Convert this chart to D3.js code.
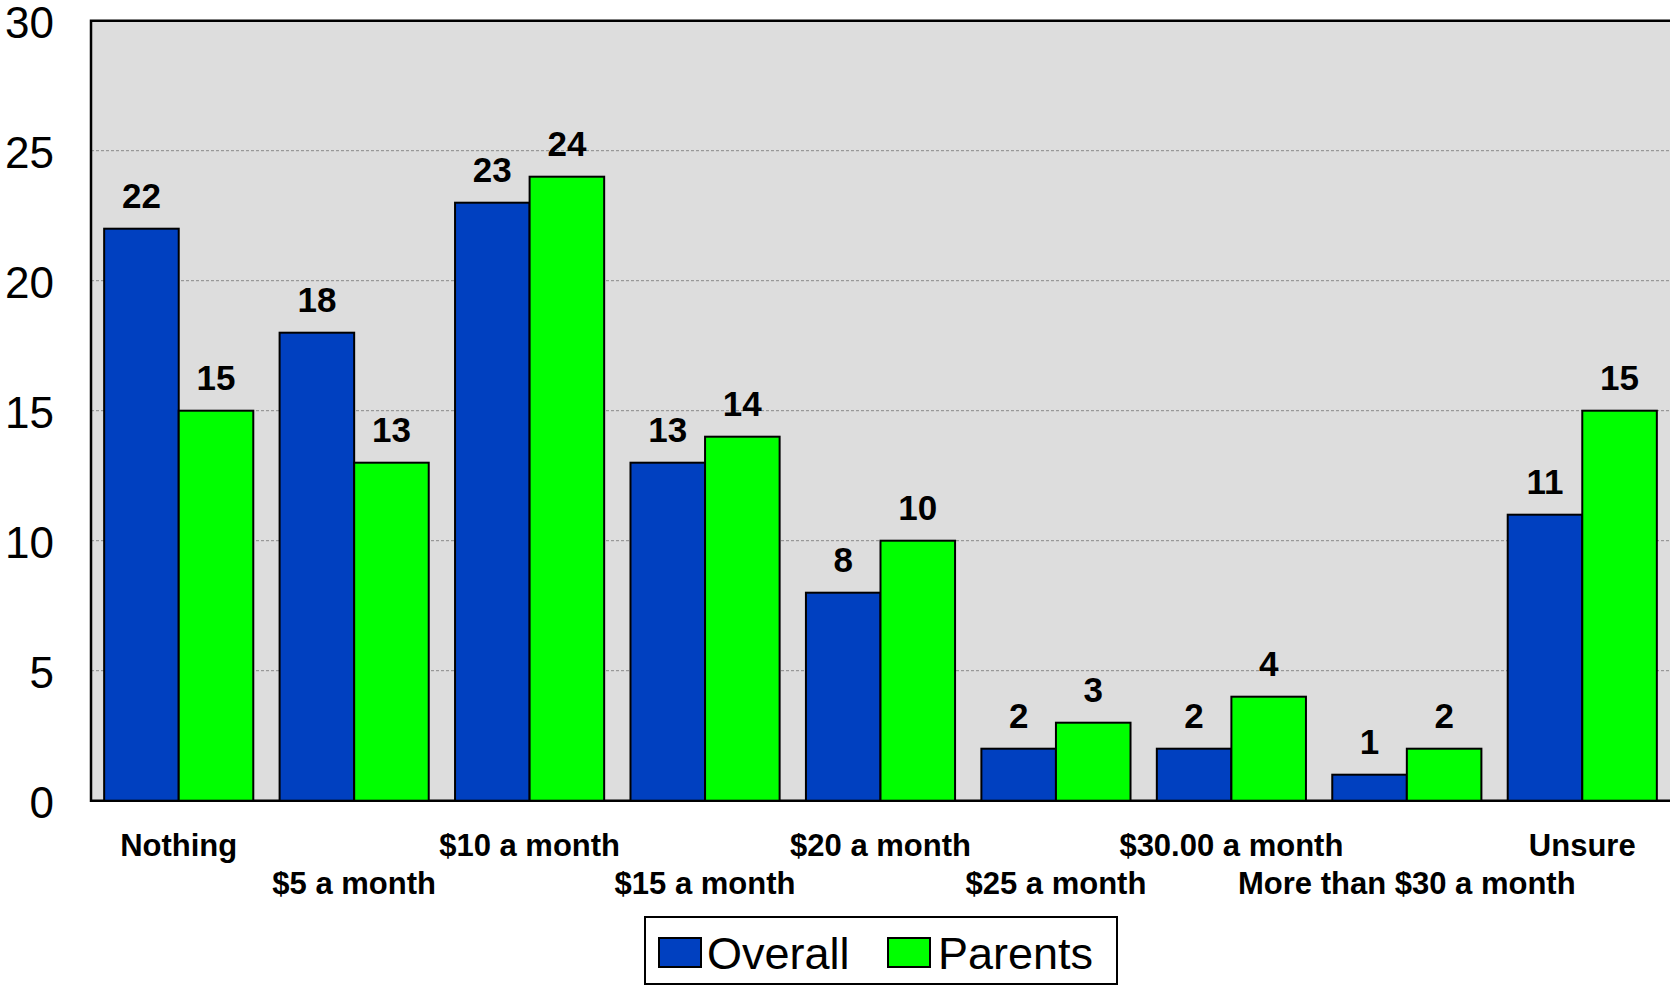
<!DOCTYPE html>
<html><head><meta charset="utf-8">
<script src="https://cdn.jsdelivr.net/npm/d3@7"></script>
<style>html,body{margin:0;padding:0;background:#fff;overflow:hidden}</style>
</head><body>
<svg id="chart" width="1670" height="986"></svg>
<script>
const categories = ["Nothing","$5 a month","$10 a month","$15 a month","$20 a month","$25 a month","$30.00 a month","More than $30 a month","Unsure"];
const seriesNames = ["Overall","Parents"];
const overall = [22,18,23,13,8,2,2,1,11];
const parents = [15,13,24,14,10,3,4,2,15];
const yTicks = [0,5,10,15,20,25,30];
const colors = {Overall:"#0040C0", Parents:"#00FF00"};

(function(){
const svg = d3.select("#chart");
const font = "'Liberation Sans', Arial, sans-serif";
const pLeft = 91, pRight = 1670, pTop = 20.7, pBottom = 800.7;

const x0 = d3.scaleBand().domain(categories).range([pLeft, pRight]).padding(0);
const bw = x0.bandwidth();
const x1 = d3.scaleBand().domain(seriesNames).range([bw*0.075, bw*0.925]).padding(0);
const y = d3.scaleLinear().domain([0,30]).range([pBottom, pTop]);

svg.append("rect").attr("x", pLeft).attr("y", pTop).attr("width", pRight-pLeft+5).attr("height", pBottom-pTop).attr("fill", "#DDDDDD");

svg.append("g").selectAll("line").data(yTicks.filter(d => d>0 && d<30)).join("line")
  .attr("x1", pLeft).attr("x2", pRight+5).attr("y1", d=>y(d)).attr("y2", d=>y(d))
  .attr("stroke", "#888").attr("stroke-width", 1).attr("stroke-dasharray", "3,2");

svg.append("path").attr("d", `M${pRight+5},${pTop}H${pLeft}V${pBottom}H${pRight+5}`)
  .attr("fill","none").attr("stroke","#000").attr("stroke-width",2.5);

const data = categories.map((c,i)=>({cat:c, vals:[{s:"Overall",v:overall[i]},{s:"Parents",v:parents[i]}]}));
const groups = svg.append("g").selectAll("g").data(data).join("g")
  .attr("transform", d=>`translate(${x0(d.cat)},0)`);
groups.selectAll("rect").data(d=>d.vals).join("rect")
  .attr("x", d=>x1(d.s)).attr("width", x1.bandwidth())
  .attr("y", d=>y(d.v)).attr("height", d=>y(0)-y(d.v))
  .attr("fill", d=>colors[d.s]).attr("stroke","#000").attr("stroke-width",2);
groups.selectAll("text").data(d=>d.vals).join("text")
  .attr("x", d=>x1(d.s)+x1.bandwidth()/2).attr("y", d=>y(d.v)-21)
  .attr("text-anchor","middle").attr("font-family",font).attr("font-weight","bold")
  .attr("font-size","35px").attr("fill","#000").text(d=>d.v);

svg.append("g").selectAll("text").data(yTicks).join("text")
  .attr("x", 54).attr("y", d=>y(d)+17).attr("text-anchor","end")
  .attr("font-family",font).attr("font-size","44px").attr("fill","#000").text(d=>d);

svg.append("g").selectAll("text").data(categories).join("text")
  .attr("x", d=>x0(d)+bw/2).attr("y", (d,i)=> i%2===0 ? 856 : 894)
  .attr("text-anchor","middle").attr("font-family",font).attr("font-weight","bold")
  .attr("font-size","31px").attr("fill","#000").text(d=>d);

const lg = svg.append("g");
lg.append("rect").attr("x",645).attr("y",917).attr("width",472).attr("height",67)
  .attr("fill","#fff").attr("stroke","#000").attr("stroke-width",2);
const legendItems = [{s:"Overall",x:659,tx:707},{s:"Parents",x:888,tx:938}];
legendItems.forEach(it=>{
  lg.append("rect").attr("x",it.x).attr("y",938).attr("width",42).attr("height",29)
    .attr("fill",colors[it.s]).attr("stroke","#000").attr("stroke-width",2);
  lg.append("text").attr("x",it.tx).attr("y",969).attr("font-family",font)
    .attr("font-size","45px").attr("fill","#000").text(it.s);
});
})();
</script>
</body></html>
